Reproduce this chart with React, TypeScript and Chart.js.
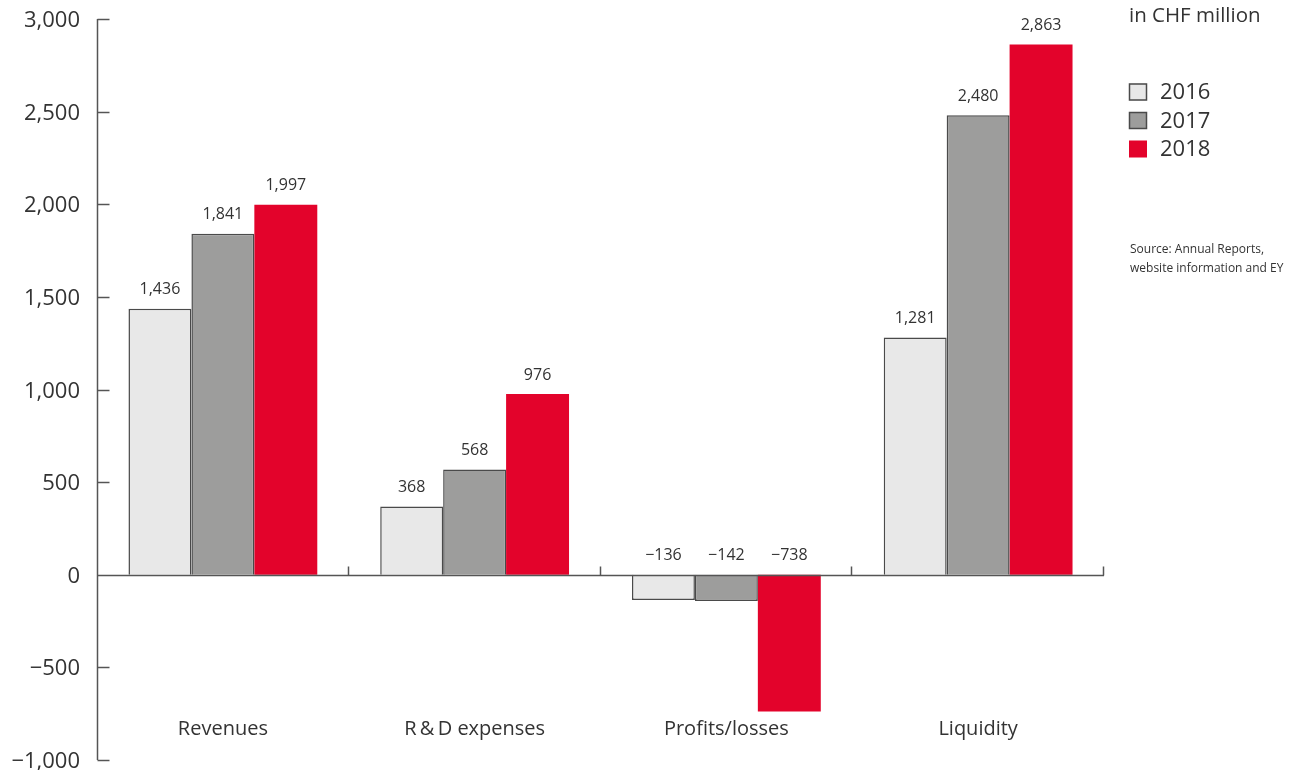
import React, { useEffect, useRef } from "react";
import { Chart, registerables } from "chart.js";

Chart.register(...registerables);

const categories = ["Revenues", "R\u2009&\u2009D expenses", "Profits/losses", "Liquidity"];
const years = ["2016", "2017", "2018"];
const values2016 = [1436, 368, -136, 1281];
const values2017 = [1841, 568, -142, 2480];
const values2018 = [1997, 976, -738, 2863];
const yTicks = [-1000, -500, 0, 500, 1000, 1500, 2000, 2500, 3000];
const unitLabel = "in CHF million";
const sourceLines = ["Source: Annual Reports,", "website information and EY"];

const FONT = "'Open Sans', 'Noto Sans', sans-serif";
const TEXT = "#333333";
const AXIS = "#555555";
const fills = ["#e8e8e8", "#9d9d9c", "#e3032b"];
const borders = ["#4a4a4a", "#4a4a4a", "#e3032b"];
const borderWidths = [1.5, 1.5, 0];

const fmt = (v: number) => {
  const s = Math.abs(v).toLocaleString("en-US");
  return v < 0 ? "\u2212" + s : s;
};

const decorPlugin = {
  id: "decor",
  afterDatasetsDraw(chart: any) {
    const { ctx, chartArea } = chart;
    const x = chart.scales.x;
    const y = chart.scales.y;
    const y0 = y.getPixelForValue(0);
    ctx.save();
    ctx.strokeStyle = AXIS;
    ctx.lineWidth = 1.5;
    const ax = Math.round(chartArea.left) + 0.5;
    ctx.beginPath();
    ctx.moveTo(ax, y.getPixelForValue(yTicks[yTicks.length - 1]));
    ctx.lineTo(ax, y.getPixelForValue(yTicks[0]));
    ctx.stroke();
    ctx.fillStyle = TEXT;
    ctx.font = `22px ${FONT}`;
    ctx.textAlign = "right";
    ctx.textBaseline = "middle";
    yTicks.forEach((t) => {
      const py = Math.round(y.getPixelForValue(t)) + 0.5;
      if (t !== 0) {
        ctx.beginPath();
        ctx.moveTo(ax, py);
        ctx.lineTo(ax + 12, py);
        ctx.stroke();
      }
      ctx.fillText(fmt(t), 80, py + 1);
    });
    const zy = Math.round(y0) + 0.5;
    ctx.beginPath();
    ctx.moveTo(ax, zy);
    ctx.lineTo(chartArea.right, zy);
    ctx.stroke();
    for (let i = 1; i <= categories.length; i++) {
      const px =
        i < categories.length
          ? (x.getPixelForValue(i - 1) + x.getPixelForValue(i)) / 2
          : chartArea.right;
      const bx = Math.round(px) - 0.5;
      ctx.beginPath();
      ctx.moveTo(bx, zy);
      ctx.lineTo(bx, zy - 9);
      ctx.stroke();
    }
    ctx.font = `16px ${FONT}`;
    ctx.textAlign = "center";
    chart.data.datasets.forEach((ds: any, di: number) => {
      const meta = chart.getDatasetMeta(di);
      meta.data.forEach((bar: any, i: number) => {
        const v = ds.data[i];
        const top = v >= 0 ? bar.y : y0;
        ctx.fillText(fmt(v), bar.x, top - 19);
      });
    });
    ctx.font = `20px ${FONT}`;
    const ly = y.getPixelForValue(-833);
    categories.forEach((c, i) => {
      ctx.fillText(c, x.getPixelForValue(i), ly);
    });
    ctx.textAlign = "left";
    ctx.font = `20.5px ${FONT}`;
    ctx.fillText(unitLabel, 1129, 16);
    ctx.font = `22px ${FONT}`;
    years.forEach((yr, i) => {
      const cy = 92 + i * 28.5;
      ctx.fillStyle = fills[i];
      ctx.fillRect(1129, cy - 8.5, 18, 17);
      if (borderWidths[i] > 0) {
        ctx.strokeStyle = borders[i];
        ctx.lineWidth = 1.5;
        ctx.strokeRect(1129.5, cy - 8, 17, 16);
      }
      ctx.fillStyle = TEXT;
      ctx.fillText(yr, 1160, cy + 1);
    });
    ctx.font = `12px ${FONT}`;
    sourceLines.forEach((l, i) => {
      ctx.fillText(l, 1130, 250 + i * 19);
    });
    ctx.restore();
  },
};

export default function App() {
  const ref = useRef<HTMLCanvasElement>(null);
  useEffect(() => {
    if (!ref.current) return;
    const series = [values2016, values2017, values2018];
    const chart = new Chart(ref.current, {
      type: "bar",
      data: {
        labels: categories,
        datasets: series.map((d, i) => ({
          label: years[i],
          data: d,
          backgroundColor: fills[i],
          borderColor: borders[i],
          borderWidth: borderWidths[i],
          categoryPercentage: 0.75,
          barPercentage: 1,
        })),
      },
      options: {
        animation: false,
        responsive: false,
        maintainAspectRatio: false,
        layout: { padding: { left: 0, right: 195, top: 19, bottom: 10 } },
        plugins: {
          legend: { display: false },
          tooltip: { enabled: false },
        },
        scales: {
          x: {
            grid: { display: false },
            border: { display: false },
            ticks: { display: false },
            afterFit: (s: any) => {
              s.height = 0;
            },
          },
          y: {
            min: -1000,
            max: 3000,
            afterBuildTicks: (s: any) => {
              s.ticks = yTicks.map((v) => ({ value: v }));
            },
            grid: { display: false },
            border: { display: false },
            ticks: { display: false },
            afterFit: (s: any) => {
              s.width = 97;
            },
          },
        },
      },
      plugins: [decorPlugin],
    });
    return () => chart.destroy();
  }, []);
  return (
    <div style={{ position: "absolute", left: 0, top: 0, width: 1299, height: 770, background: "#fff" }}>
      <canvas ref={ref} width={1299} height={770} style={{ width: 1299, height: 770 }} />
    </div>
  );
}
